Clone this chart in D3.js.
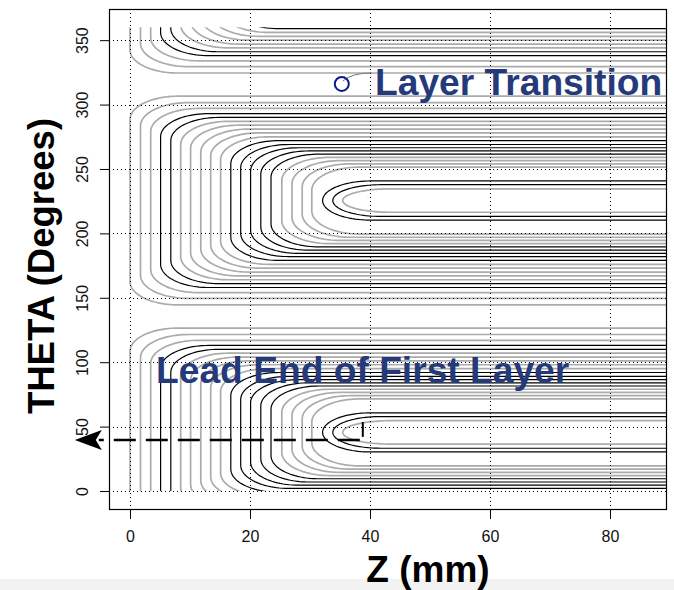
<!DOCTYPE html>
<meta charset="utf-8">
<style>
body { margin: 0; background: #fff; }
svg { display: block; font-family: "Liberation Sans", Arial, sans-serif; }
</style>
<body>
<script src="https://d3js.org/d3.v7.min.js"></script>
<script>

var width = 674, height = 590;

// axis ticks
var zTicks = [0, 20, 40, 60, 80];
var thetaTicks = [0, 50, 100, 150, 200, 250, 300, 350];

// coil end: z of each turn's end, outer turn first (mm)
var turnZ = [0, 1.75, 3.45, 5.1, 6.8, 8.45, 10.1, 11.8, 13.45, 15.1, 16.8,
             18.45, 20.1, 21.8, 23.5, 25.3, 27, 28.7, 30.3, 32.1, 33.8, 35.45];
// half opening of each turn round the pole centre (degrees)
var turnOffset = [81, 76, 71.5, 67.5, 64.5, 61.5, 58.5, 55.5, 52.5, 49.5, 46.5,
                  43.5, 41, 38.5, 36, 33.5, 31, 28.5, 26, 15.2, 12.3, 9.1];
var turnShade = ["g", "g", "g", "k", "k", "g", "g", "g", "g", "g", "k",
                 "k", "k", "k", "k", "g", "g", "g", "g", "k", "k", "g"];
// pole centres, the first pole wraps past 360
var poleCentre = [45.5, 225.5, 405.5];

// lead end and layer transition marks
var leadZ = [38.3, -5.2], leadTheta = 39.6, arrowTipZ = -9.2;
var leadTickZ = 38.8, leadTickTheta = [42, 53.5];
var transZ = 35.3, transTheta = 316;

var svg = d3.select("body").append("svg")
    .attr("width", width)
    .attr("height", height);

var x = d3.scaleLinear().domain([-3.5, 89.5]).range([109, 667]);
var y = d3.scaleLinear().domain([-14.75, 374.2]).range([510, 9]);

svg.append("rect").attr("x", 0).attr("y", 579).attr("width", width).attr("height", 11)
    .attr("fill", "#f2f2f2");

svg.append("clipPath").attr("id", "clip")
  .append("rect")
    .attr("x", x(-3.5)).attr("y", y(360))
    .attr("width", x(89.5) - x(-3.5)).attr("height", y(0) - y(360));

var line = d3.line()
    .x(function(d) { return x(d[0]); })
    .y(function(d) { return y(d[1]); });

function turnPoints(c, d, z0) {
  var rx = 8, ry = Math.min(d, 18), pts = [], n = 24, i, a;
  pts.push([95, c + d]);
  for (i = 0; i <= n; i++) {
    a = Math.PI / 2 + i / n * Math.PI / 2;
    pts.push([z0 + rx + rx * Math.cos(a), c + d - ry + ry * Math.sin(a)]);
  }
  for (i = 0; i <= n; i++) {
    a = Math.PI + i / n * Math.PI / 2;
    pts.push([z0 + rx + rx * Math.cos(a), c - d + ry + ry * Math.sin(a)]);
  }
  pts.push([95, c - d]);
  return pts;
}

var turns = [];
poleCentre.forEach(function(c) {
  turnZ.forEach(function(z, i) {
    turns.push({c: c, z: z, d: turnOffset[i], shade: turnShade[i]});
  });
});
turns.sort(function(a, b) { return a.shade === "g" ? -1 : 1; });

var coil = svg.append("g").attr("clip-path", "url(#clip)");
coil.selectAll("path").data(turns).enter().append("path")
    .attr("d", function(t) { return line(turnPoints(t.c, t.d, t.z)); })
    .attr("fill", "none")
    .attr("stroke", function(t) { return t.shade === "g" ? "#ababab" : "#000"; })
    .attr("stroke-width", function(t) { return t.shade === "g" ? 1.7 : 1.2; });

// dotted grid
var grid = svg.append("g").attr("stroke", "#000").attr("stroke-dasharray", "1,3");
grid.selectAll(".gx").data(zTicks).enter().append("line")
    .attr("x1", function(d) { return x(d) + 0.5; }).attr("x2", function(d) { return x(d) + 0.5; })
    .attr("y1", y(374.2)).attr("y2", y(-14.75));
grid.selectAll(".gy").data(thetaTicks).enter().append("line")
    .attr("y1", function(d) { return Math.round(y(d)) + 0.5; })
    .attr("y2", function(d) { return Math.round(y(d)) + 0.5; })
    .attr("x1", x(-3.5)).attr("x2", x(89.5));

// box
svg.append("rect")
    .attr("x", 109.5).attr("y", 9.5).attr("width", 557).attr("height", 500)
    .attr("fill", "none").attr("stroke", "#000").attr("stroke-width", 1.2);

// axes
var xAxis = svg.append("g").attr("transform", "translate(0,510)")
    .call(d3.axisBottom(x).tickValues(zTicks).tickSize(9).tickPadding(12));
var yAxis = svg.append("g").attr("transform", "translate(109,0)")
    .call(d3.axisLeft(y).tickValues(thetaTicks).tickSize(9));
[xAxis, yAxis].forEach(function(g) {
  g.select(".domain").remove();
  g.selectAll("line").attr("stroke", "#000");
  g.selectAll("text").attr("fill", "#111").style("font-size", "16px")
    .style("font-family", "Liberation Sans, Arial, sans-serif");
});
yAxis.selectAll("text")
    .attr("x", 0).attr("y", 0).attr("dy", 0)
    .attr("transform", "translate(-21,0) rotate(-90)")
    .attr("text-anchor", "middle");

// axis titles
svg.append("text")
    .attr("transform", "translate(54,266) rotate(-90)")
    .attr("text-anchor", "middle")
    .style("font-weight", "bold").style("font-size", "36.5px")
    .text("THETA (Degrees)");
svg.append("text")
    .attr("x", 428).attr("y", 582)
    .attr("text-anchor", "middle")
    .style("font-weight", "bold").style("font-size", "37px")
    .text("Z (mm)");

// lead end arrow
svg.append("line")
    .attr("x1", x(leadZ[0])).attr("x2", x(leadZ[1]))
    .attr("y1", y(leadTheta)).attr("y2", y(leadTheta))
    .attr("stroke", "#000").attr("stroke-width", 2.5).attr("stroke-dasharray", "22,10");
var ax = x(arrowTipZ), ay = y(leadTheta);
svg.append("path")
    .attr("d", "M" + ax + "," + ay + "L" + (ax + 27) + "," + (ay - 10) +
               "L" + (ax + 21) + "," + ay + "L" + (ax + 27) + "," + (ay + 10) + "Z")
    .attr("fill", "#000");
svg.append("line")
    .attr("x1", x(leadTickZ)).attr("x2", x(leadTickZ))
    .attr("y1", y(leadTickTheta[0])).attr("y2", y(leadTickTheta[1]))
    .attr("stroke", "#000").attr("stroke-width", 2);

// layer transition
var cx = x(transZ), cy = y(transTheta);
svg.append("path")
    .attr("d", "M" + (cx + 1) + "," + (cy - 3) + "Q" + (cx + 10) + "," + (cy - 11) + " " + (cx + 30) + "," + (cy - 11))
    .attr("fill", "none").attr("stroke", "#777").attr("stroke-width", 1);
svg.append("circle")
    .attr("cx", cx).attr("cy", cy).attr("r", 7)
    .attr("fill", "none").attr("stroke", "#0d1a8c").attr("stroke-width", 2);

svg.append("text")
    .attr("x", 375).attr("y", 95)
    .attr("fill", "#243a7a")
    .style("font-weight", "bold").style("font-size", "37.2px")
    .text("Layer Transition");
svg.append("text")
    .attr("x", 156).attr("y", 383)
    .attr("fill", "#243a7a")
    .style("font-weight", "bold").style("font-size", "37.2px")
    .text("Lead End of First Layer");

</script>
